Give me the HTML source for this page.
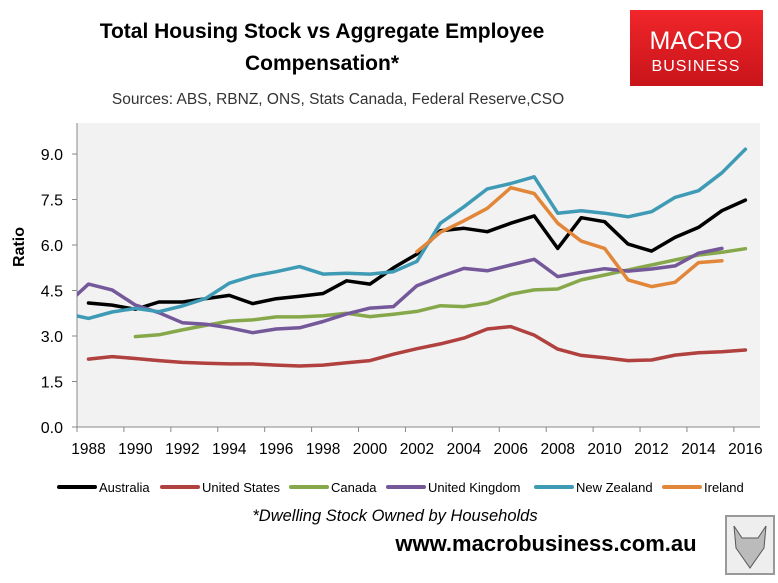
<!DOCTYPE html>
<html><head><meta charset="utf-8"><style>
body{margin:0;background:#fff;width:778px;height:578px;overflow:hidden;font-family:"Liberation Sans",sans-serif}
</style></head><body>
<svg width="778" height="578" viewBox="0 0 778 578" xmlns="http://www.w3.org/2000/svg">
<defs>
<clipPath id="pc"><rect x="77" y="115" width="685" height="313"/></clipPath>
<linearGradient id="lg" x1="0" y1="0" x2="0" y2="1"><stop offset="0" stop-color="#f0262a"/><stop offset="1" stop-color="#c8141a"/></linearGradient>
</defs>
<text x="322" y="38" text-anchor="middle" font-size="21" font-weight="bold">Total Housing Stock vs Aggregate Employee</text>
<text x="322" y="70" text-anchor="middle" font-size="21" font-weight="bold">Compensation*</text>
<text x="338" y="104" text-anchor="middle" font-size="15.5" fill="#333">Sources: ABS, RBNZ, ONS, Stats Canada, Federal Reserve,CSO</text>
<g>
<rect x="630" y="10" width="133" height="76" fill="url(#lg)"/>
<text x="696" y="49" text-anchor="middle" font-size="25" fill="#fff">MACRO</text>
<text x="696" y="71" text-anchor="middle" font-size="16" fill="#fff" letter-spacing="1">BUSINESS</text>
</g>
<rect x="77" y="123" width="683" height="304" fill="#f2f2f2"/>
<g id="axes"></g>
<g id="series" clip-path="url(#pc)"></g>
<text transform="translate(24,247) rotate(-90)" text-anchor="middle" font-size="16" font-weight="bold">Ratio</text>
<g id="legend"></g>
<text x="395" y="521" text-anchor="middle" font-size="16.5" font-style="italic">*Dwelling Stock Owned by Households</text>
<text x="546" y="551" text-anchor="middle" font-size="22" font-weight="bold">www.macrobusiness.com.au</text>
<g>
<rect x="726" y="516" width="48" height="58" fill="#eee" stroke="#999" stroke-width="2"/>
<path d="M734 526 L742 538 L758 538 L766 526 L764 548 L750 568 L736 548 Z" fill="#bbb" stroke="#555" stroke-width="1"/>
</g>
</svg>
<script>
const years=[1987,1988,1989,1990,1991,1992,1993,1994,1995,1996,1997,1998,1999,2000,2001,2002,2003,2004,2005,2006,2007,2008,2009,2010,2011,2012,2013,2014,2015,2016];
const yTicks=[0,1.5,3,4.5,6,7.5,9];
const xLabels=[1988,1990,1992,1994,1996,1998,2000,2002,2004,2006,2008,2010,2012,2014,2016];
const australia=[null,4.09,4.02,3.88,4.12,4.12,4.23,4.34,4.07,4.23,4.31,4.40,4.82,4.71,5.25,5.70,6.47,6.55,6.44,6.72,6.96,5.89,6.90,6.77,6.03,5.80,6.25,6.58,7.13,7.48];
const unitedStates=[null,2.24,2.32,2.26,2.19,2.13,2.10,2.08,2.08,2.04,2.01,2.04,2.12,2.19,2.40,2.58,2.74,2.93,3.23,3.31,3.03,2.57,2.36,2.28,2.19,2.21,2.37,2.45,2.48,2.54];
const canada=[null,null,null,2.98,3.04,3.20,3.35,3.49,3.53,3.63,3.63,3.67,3.75,3.64,3.72,3.81,4.00,3.97,4.09,4.38,4.52,4.55,4.85,5.01,5.18,5.34,5.51,5.67,5.76,5.88];
const unitedKingdom=[4.0,4.71,4.52,4.02,3.77,3.44,3.39,3.27,3.11,3.23,3.27,3.48,3.73,3.92,3.97,4.66,4.96,5.23,5.15,5.34,5.53,4.96,5.10,5.22,5.14,5.21,5.31,5.73,5.89,null];
const newZealand=[3.75,3.58,3.79,3.91,3.80,3.99,4.24,4.74,4.98,5.12,5.29,5.04,5.07,5.04,5.12,5.46,6.72,7.26,7.85,8.03,8.25,7.05,7.13,7.05,6.93,7.10,7.57,7.79,8.38,9.16];
const ireland=[null,null,null,null,null,null,null,null,null,null,null,null,null,null,null,5.78,6.42,6.80,7.21,7.89,7.70,6.72,6.13,5.89,4.85,4.63,4.77,5.42,5.48,null];
const seriesNames=["Australia","United States","Canada","United Kingdom","New Zealand","Ireland"];
const seriesData=[australia,unitedStates,canada,unitedKingdom,newZealand,ireland];
const colors=["#000000","#b0413e","#86a84a","#74589a","#3f9bb5","#e2873a"];
const NS="http://www.w3.org/2000/svg";
function xs(yr){return 88.5+(yr-1988)*23.46;}
function ys(v){return 427-v*30.33;}
function mk(tag,at,parent){const e=document.createElementNS(NS,tag);for(const k in at)e.setAttribute(k,at[k]);parent.appendChild(e);return e;}
const axes=document.getElementById('axes');
let a=mk('line',{x1:77,y1:123,x2:77,y2:427,stroke:'#888'},axes);


a=mk('line',{x1:77,y1:427,x2:760,y2:427,stroke:'#888'},axes);


yTicks.forEach(v=>{
 const t=mk('line',{x1:72,y1:ys(v),x2:77,y2:ys(v),stroke:'#888'},axes);
 
 
 const l=mk('text',{x:63,y:ys(v)+6,'text-anchor':'end','font-size':16},axes);
 l.textContent=v.toFixed(1);
 
 
});
for(let i=0;i<=15;i++){
 const x=77+i*46.92;
 const t=mk('line',{x1:x,y1:427,x2:x,y2:432,stroke:'#888'},axes);
 
 
}
xLabels.forEach(yr=>{
 const l=mk('text',{x:xs(yr),y:454,'text-anchor':'middle','font-size':15.5},axes);
 l.textContent=yr;
 
 
});
const sg=document.getElementById('series');
seriesData.forEach((arr,si)=>{
 let d='';let pen=false;
 arr.forEach((v,i)=>{if(v==null){pen=false;return;}d+=(pen?'L':'M')+xs(years[i]).toFixed(1)+' '+ys(v).toFixed(1)+' ';pen=true;});
 const p=mk('path',{d:d,fill:'none',stroke:colors[si],'stroke-width':3.5,'stroke-linejoin':'round','stroke-linecap':'round'},sg);
 
 
});
const lg=document.getElementById('legend');
const lx=[59,162,291,388,536,664];
seriesNames.forEach((n,i)=>{
 const g=mk('g',{},lg);
 
 
 mk('line',{x1:lx[i],y1:487,x2:lx[i]+36,y2:487,stroke:colors[i],'stroke-width':4,'stroke-linecap':'round'},g);
 const t=mk('text',{x:lx[i]+40,y:492,'font-size':13},g);
 t.textContent=n;
});
</script>
</body></html>
